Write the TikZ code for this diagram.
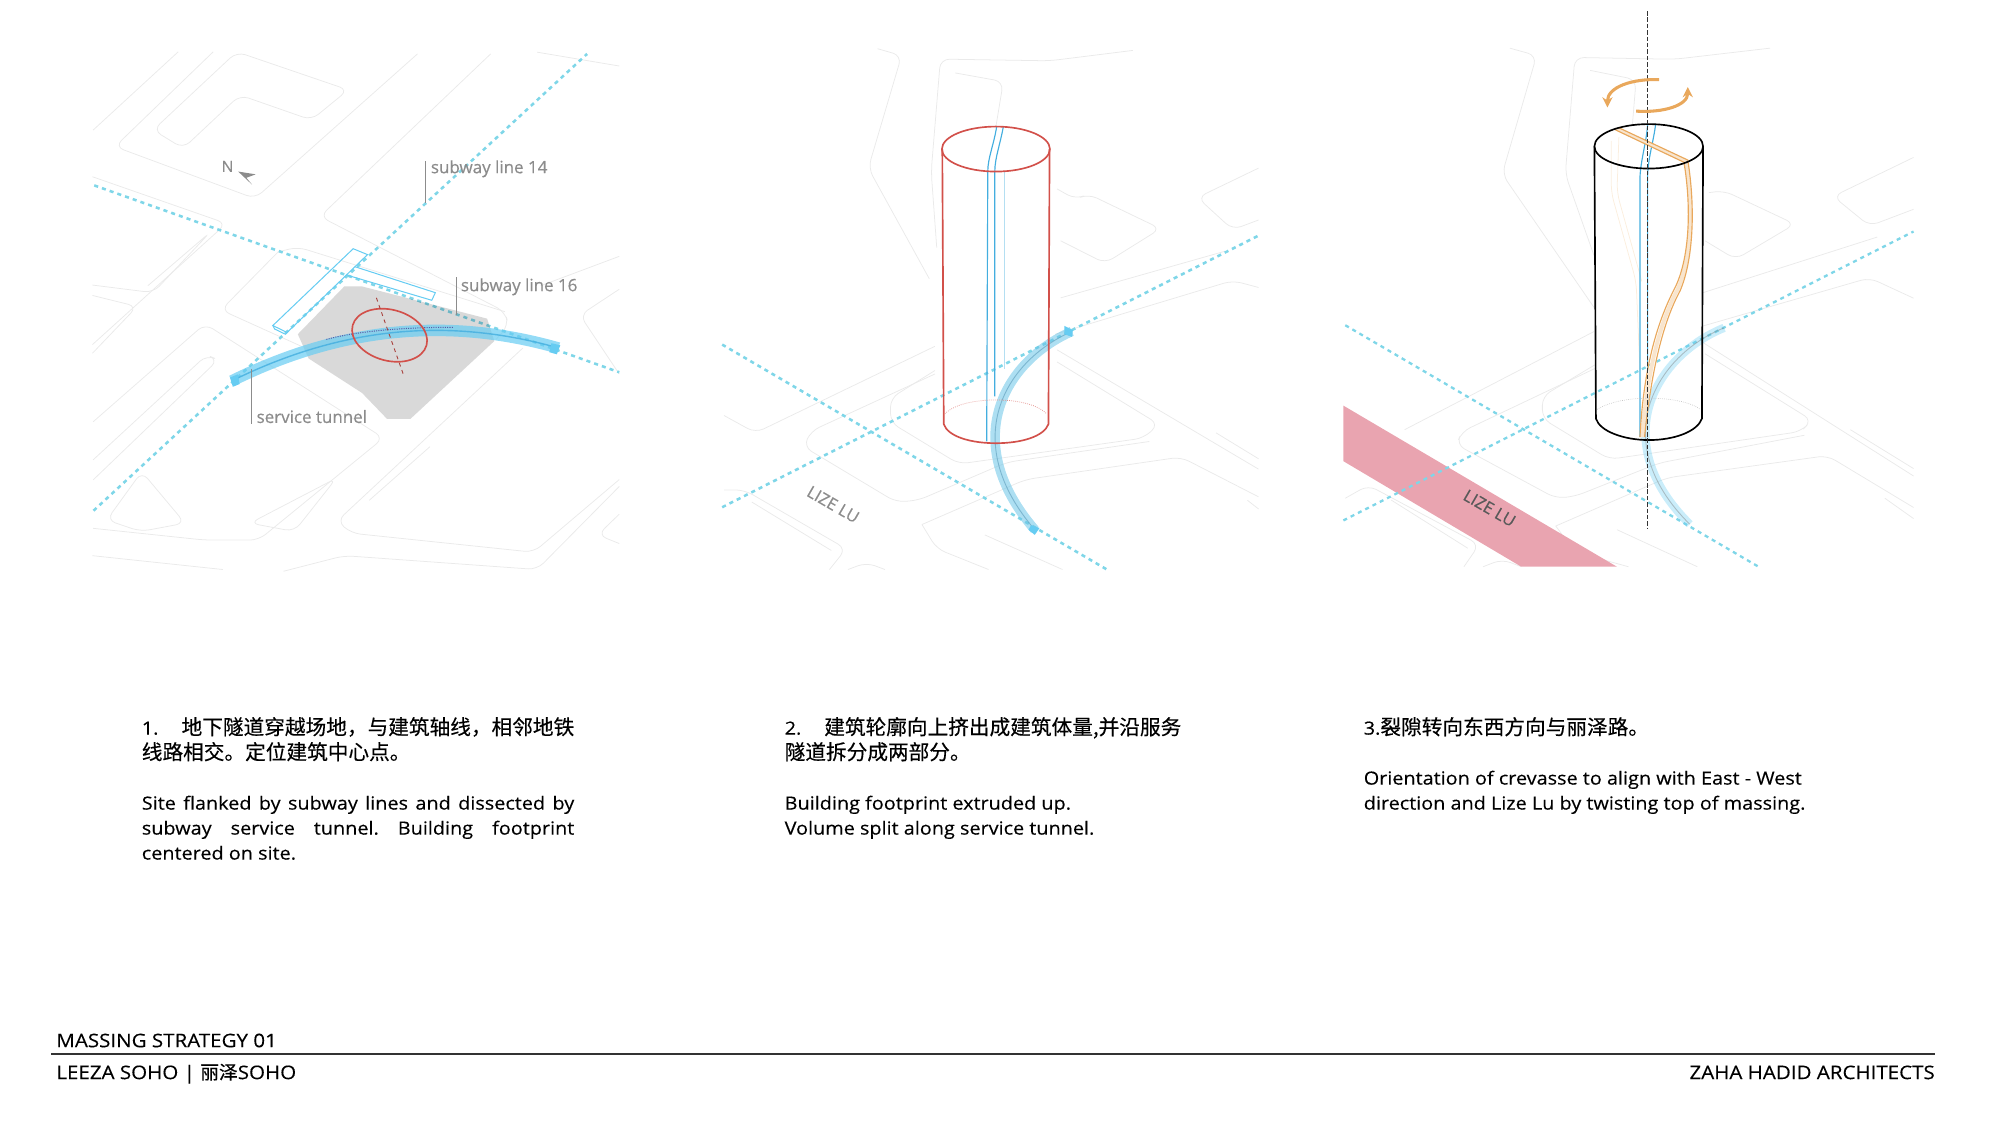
\documentclass[tikz,border=0pt]{standalone}
\usetikzlibrary{arrows.meta}
\usepackage{fontspec}
\setmainfont[FakeStretch=1.095,FakeBold=0.25]{Open Sans}
\newfontfamily\labelfont[FakeBold=0.5]{Open Sans}
\newfontfamily\cjk[FakeBold=0.3]{Noto Sans CJK SC}
\frenchspacing
\definecolor{ctxgray}{HTML}{EAEAEA}
\definecolor{subwaycyan}{HTML}{7FD6E8}
\definecolor{tunnelblue}{HTML}{66CCF2}
\definecolor{tunneldark}{HTML}{43AEDF}
\definecolor{massred}{HTML}{D2504A}
\definecolor{twistorange}{HTML}{E9A85C}
\definecolor{roadpink}{HTML}{E9A4B0}
\definecolor{labelgray}{HTML}{8C8C8C}
\begin{document}
\begin{tikzpicture}[x=1pt,y=-1pt,
  panelA/.style={x=0.28pt,y=-0.2713pt,shift={(62.7pt,-31.4pt)}},
  panelB/.style={x=0.29pt,y=-0.2713pt,shift={(548.8pt,-31.4pt)}},
  panelC/.style={x=0.30pt,y=-0.2904pt,shift={(1042.7pt,0pt)}},
  ctx/.style={draw=ctxgray,line width=0.6pt,rounded corners=7pt},
  subway/.style={draw=subwaycyan,line width=2pt,dash pattern=on 3.2pt off 3.2pt},
  tunnel/.style={draw=tunnelblue,line width=9pt,opacity=0.7},
  tunnelcore/.style={draw=tunneldark,line width=1.1pt,opacity=0.8},
  tunnelend/.style={fill=tunnelblue},
  split/.style={draw=tunneldark,line width=0.9pt},
  station/.style={draw=tunnelblue,line width=0.8pt},
  leader/.style={draw=labelgray,line width=0.9pt},
  callout/.style={text=labelgray,font=\labelfont\fontsize{13.3}{16}\selectfont,anchor=west,inner sep=0pt},
  roadname/.style={font=\labelfont\fontsize{13}{15}\selectfont,rotate=-30,inner sep=0pt},
  body/.style={anchor=north west,inner sep=0pt,align=left,font=\fontsize{14.2}{19.6}\selectfont},
  footer/.style={inner sep=0pt,font=\fontsize{14.7}{18}\selectfont},
  twist/.style={draw=twistorange,line width=2.4pt,-{Stealth[length=8pt,width=8pt]}},
  twistfill/.style={draw=twistorange!30,line width=3pt},
  twistband/.style={draw=twistorange,line width=0.9pt}]
\useasboundingbox (0,0) rectangle (1568,884.3);

% panel 1
\begin{scope}[panelA]
\draw[ctx] (205,260) -- (439,34) -- (751,144) -- (648,231) -- (448,159) -- (289,313) -- cycle;
\draw[ctx] (373,34) -- (98,308) -- (490,458) -- (945,40);
\draw[ctx] (37,260) -- (275,34);
\draw[ctx] (1150,40) -- (672,510) -- (1190,785) -- (1200,825) -- (1165,865);
\draw[ctx] (35,395) -- (410,530) -- (35,880);
\draw[ctx] (555,612) -- (610,598) -- (1190,785);
\draw[ctx] (555,612) -- (395,780) -- (620,885);
\draw[ctx] (35,708) -- (205,730) -- (365,555) -- (190,710);
\draw[ctx] (35,738) -- (160,770) -- (35,905);
\draw[ctx] (37,1103) -- (350,820) -- (850,1150) -- (500,1445) -- (350,1445) -- (37,1411);
\draw[ctx] (1240,890) -- (720,1390) -- (760,1425) -- (1270,1480) -- (1510,1270);
\draw[ctx] (37,1213) -- (355,910) -- (387,924) -- (37,1271);
\draw[ctx] (810,1330) -- (980,1175);
\draw[ctx] (476,1396) -- (718,1266) -- (600,1420) -- cycle;
\draw[ctx] (75,1387) -- (173,1247) -- (294,1396) -- (170,1420) -- cycle;
\draw[ctx] (35,1490) -- (400,1530);
\draw[ctx] (570,1535) -- (740,1490) -- (1280,1530) -- (1510,1290);
\draw[ctx] (1510,965) -- (1400,795) -- (1510,720);
\draw[ctx] (1510,625) -- (1290,710);
\draw[ctx] (1280,35) -- (1510,75);
\draw[ctx] (1510,1370) -- (1450,1430) -- (1510,1455);
\draw[subway] (38,1360) -- (1420,40);
\draw[subway] (40,420) -- (1510,960);
\fill[black,opacity=0.15] (740,712) -- (790,712) -- (1140,805) -- (1160,870) -- (925,1095) -- (860,1095) -- (790,1020) -- (640,920) -- (610,850) -- cycle;
\draw[station] (765,603) -- (805,620) -- (580,845) -- (540,825) -- cycle;
\draw[station] (540,825) -- (545,835) -- (575,850) -- (580,845);
\draw[station] (770,655) -- (995,730) -- (985,752) -- (750,680);
\draw[tunnel] (425,985) .. controls (700,845) and (1000,790) .. (1340,890);
\draw[tunnelcore] (425,985) .. controls (700,845) and (1000,790) .. (1340,890);
\draw[gray!70!blue,line width=0.8pt,densely dotted] (690,865) .. controls (800,835) and (950,830) .. (1045,830);
\fill[tunnelend] (420,975) -- (442,966) -- (447,994) -- (428,1002) -- cycle;
\fill[tunnelend] (1320,876) -- (1345,882) -- (1335,908) -- (1314,902) -- cycle;
\draw[massred,line width=1.3pt,rotate around={-15:(867,853)}] (867,853) ellipse [x radius=30pt,y radius=20pt];
\draw[massred!80!black,line width=0.7pt,dashed] (830,745) -- (905,965);
\coordinate (north tail) at (443,380);
\coordinate (north tip) at (492,388);
\coordinate (north wing) at (466,398);
\coordinate (north foot) at (482,418);
\node[text=labelgray,font=\labelfont\fontsize{12}{14}\selectfont,inner sep=0pt] (north) at (413,365) {N};
\fill[labelgray] (north tail) -- (north tip) -- (north wing) -- (north foot) -- cycle;
\coordinate (lead14 top) at (968,350);
\coordinate (lead14 end) at (968,470);
\coordinate (lead16 top) at (1054,685);
\coordinate (lead16 end) at (1054,795);
\coordinate (leadst top) at (481,950);
\coordinate (leadst end) at (481,1110);
\draw[leader] (lead14 top) -- (lead14 end);
\draw[leader] (lead16 top) -- (lead16 end);
\draw[leader] (leadst top) -- (leadst end);
\node[callout] (line14) at (982,372) {subway line 14};
\node[callout] (line16) at (1066,713) {subway line 16};
\node[callout] (service) at (494,1088) {service tunnel};
\end{scope}

% panel 2
\begin{scope}[panelB]
\draw[ctx] (480,25) -- (545,45) -- (455,370) -- (620,690);
\draw[ctx] (1170,30) -- (945,60) -- (650,55) -- (625,380) -- (640,600);
\draw[ctx] (690,95) -- (820,120) -- (800,250);
\draw[ctx] (965,430) -- (1015,460) -- (1050,445) -- (1245,545) -- (1095,645) -- (975,580);
\draw[ctx] (1510,370) -- (1345,455) -- (1440,548) -- (1510,520);
\draw[ctx] (975,745) -- (1420,610);
\draw[ctx] (1510,715) -- (1440,695) -- (960,850);
\draw[ctx] (65,1085) -- (150,1135) -- (635,885);
\draw[ctx] (635,955) -- (515,1035) -- (515,1105) -- (700,1225) -- (1200,1150) -- (1240,1110) -- (965,930);
\draw[ctx] (635,965) -- (300,1130) -- (280,1175) -- (530,1335) -- (590,1330) -- (830,1220) -- (1215,1160);
\draw[ctx] (965,895) -- (1510,1240);
\draw[ctx] (600,1400) -- (880,1270) -- (1300,1205) -- (1510,1320);
\draw[ctx] (600,1400) -- (640,1470) -- (780,1530);
\draw[ctx] (65,1300) -- (120,1300) -- (395,1470) -- (350,1530);
\draw[ctx] (140,1335) -- (355,1475);
\draw[ctx] (770,1430) -- (980,1530);
\draw[ctx] (1395,1135) -- (1510,1210);
\draw[ctx] (1510,1355) -- (1480,1330);
\draw[ctx] (400,1530) -- (450,1510) -- (500,1530);
\draw[subway] (60,1350) -- (1510,565);
\draw[subway] (60,880) -- (1100,1530);
\draw[tunnel,draw=tunnelblue!90!gray,line width=7.5pt,opacity=0.55] (1005,842) .. controls (820,930) and (700,1160) .. (905,1415);
\draw[tunnelcore,draw=tunneldark!60!gray,line width=0.7pt,opacity=0.6] (1005,842) .. controls (820,930) and (700,1160) .. (905,1415);
\fill[tunnelend] (985,826) -- (1008,838) -- (1006,858) -- (985,850) -- cycle;
\fill[tunnelend] (895,1402) -- (918,1410) -- (905,1430) -- (888,1415) -- cycle;
\draw[tunneldark!40,line width=0.6pt] (822,380) -- (822,950);
\draw[split] (802,250) .. controls (795,300) and (778,340) .. (778,380) -- (775,1160);
\draw[split] (820,250) .. controls (812,300) and (797,340) .. (797,380) -- (797,1030);
\draw[massred,line width=1.3pt] (800,315) ellipse [x radius=146,y radius=65];
\draw[massred,line width=1.3pt] (655,315) -- (659,1110) .. controls (670,1145) and (730,1165) .. (800,1165) .. controls (870,1165) and (930,1145) .. (942,1110) -- (945,315);
\draw[massred!60,line width=0.6pt,densely dotted] (662,1080) .. controls (690,1050) and (750,1040) .. (800,1040) .. controls (850,1040) and (910,1050) .. (937,1080);
\node[roadname,text=labelgray] (lize) at (360,1342) {LIZE LU};
\end{scope}

% panel 3
\begin{scope}[panelC]
\draw[ctx] (470,130) -- (540,150) -- (450,470) -- (690,830);
\draw[ctx] (1150,130) -- (900,160) -- (640,155) -- (615,470) -- (690,690);
\draw[ctx] (680,190) -- (800,215) -- (790,340);
\draw[ctx] (990,520) -- (1030,515) -- (1215,605) -- (1060,700) -- (980,650);
\draw[ctx] (1525,425) -- (1315,530) -- (1410,610) -- (1525,565);
\draw[ctx] (975,790) -- (1430,640);
\draw[ctx] (1525,805) -- (1410,750) -- (975,880);
\draw[ctx] (195,1160) -- (690,895);
\draw[ctx] (692,985) -- (555,1070) -- (555,1130) -- (730,1240) -- (1230,1165) -- (1260,1135) -- (980,955);
\draw[ctx] (692,995) -- (345,1165) -- (330,1200) -- (590,1345) -- (640,1340) -- (860,1250) -- (1240,1175);
\draw[ctx] (975,925) -- (1525,1285);
\draw[ctx] (590,1420) -- (880,1290) -- (1300,1230) -- (1525,1370);
\draw[ctx] (590,1420) -- (640,1490) -- (780,1530);
\draw[ctx] (40,1345) -- (100,1310) -- (390,1470) -- (350,1530);
\draw[ctx] (160,1350) -- (360,1480);
\draw[ctx] (750,1430) -- (960,1530);
\draw[ctx] (1360,1160) -- (1525,1265);
\draw[ctx] (1450,1345) -- (1525,1400);
\draw[ctx] (400,1530) -- (450,1510) -- (500,1530);
\draw[ctx,draw=twistorange!20] (735,380) -- (735,520) -- (800,760) -- (810,1000);
\draw[ctx,draw=twistorange!20] (755,370) -- (750,520) -- (815,760);
\fill[roadpink] (35,1095) -- (750,1530) -- (500,1530) -- (35,1245) -- cycle;
\draw[subway,line width=1.8pt] (35,1405) -- (1525,625);
\draw[subway,line width=1.8pt] (40,878) -- (1120,1530);
\draw[tunnel,line width=6.5pt,opacity=0.35] (1030,885) .. controls (850,960) and (720,1190) .. (940,1415);
\draw[tunnelcore,draw=gray,line width=0.7pt,opacity=0.45] (1030,885) .. controls (850,960) and (720,1190) .. (940,1415);
\draw[split] (830,335) .. controls (828,380) and (812,430) .. (810,480) -- (810,1180);
\draw[split] (851,335) .. controls (846,380) and (830,430) .. (830,480) -- (830,1000);
\draw[twistfill] (750,348) -- (930,435) .. controls (950,560) and (945,700) .. (908,782) .. controls (865,865) and (830,990) .. (816,1180);
\draw[twistband] (745,350) -- (925,438) .. controls (945,560) and (940,700) .. (900,780) .. controls (860,860) and (820,980) .. (810,1180);
\draw[twistband] (755,345) -- (935,432) .. controls (955,560) and (950,700) .. (915,785) .. controls (870,870) and (840,1000) .. (822,1180);
\draw[black,line width=1.3pt] (833,395) ellipse [x radius=142,y radius=60];
\draw[black,line width=1.3pt] (691,395) -- (695,1130) .. controls (705,1165) and (770,1188) .. (833,1188) .. controls (900,1188) and (960,1165) .. (972,1130) -- (975,395);
\draw[gray!50,line width=0.5pt,densely dotted] (698,1105) .. controls (730,1085) and (780,1075) .. (833,1075) .. controls (890,1075) and (940,1085) .. (968,1105);
\draw[black!80,line width=0.5pt,dash pattern=on 3.5pt off 1.5pt] (830,30) -- (830,1425);
\draw[twist] (860,215) .. controls (790,212) and (725,235) .. (725,290);
\draw[twist] (800,300) .. controls (870,305) and (935,285) .. (935,235);
\node[roadname,text=black!65] (lizered) at (417,1372) {LIZE LU};
\end{scope}

% captions
\node[body] (note1) at (111,562) {\makebox[339pt][s]{1.\hfill\fontsize{16.2}{19.6}\selectfont\cjk 地下隧道穿越场地，与建筑轴线，相邻地铁}\\
{\fontsize{16.2}{19.6}\selectfont\cjk 线路相交。定位建筑中心点。}\\[19.6pt]
\makebox[339pt][s]{Site flanked by subway lines and dissected by}\\
\makebox[339pt][s]{subway service tunnel. Building footprint}\\
centered on site.};
\node[body] (note2) at (615,562) {2.\hspace{18pt}{\fontsize{16.2}{19.6}\selectfont\cjk 建筑轮廓向上挤出成建筑体量,并沿服务}\\
{\fontsize{16.2}{19.6}\selectfont\cjk 隧道拆分成两部分。}\\[19.6pt]
Building footprint extruded up.\\
Volume split along service tunnel.};
\node[body] (note3) at (1069,562) {3.{\fontsize{16.2}{19.6}\selectfont\cjk 裂隙转向东西方向与丽泽路。}\\[19.6pt]
Orientation of crevasse to align with East - West\\
direction and Lize Lu by twisting top of massing.};

% footer
\coordinate (rule left) at (40,826.5);
\coordinate (rule right) at (1517,826.5);
\draw[black!80,line width=1.3pt] (rule left) -- (rule right);
\node[footer,anchor=base west] (sheet) at (44,821) {MASSING STRATEGY 01};
\node[footer,anchor=base west] (project) at (44,846) {LEEZA SOHO | {\cjk 丽泽}SOHO};
\node[footer,anchor=base east] (office) at (1517,846) {ZAHA HADID ARCHITECTS};
\end{tikzpicture}
\end{document}
